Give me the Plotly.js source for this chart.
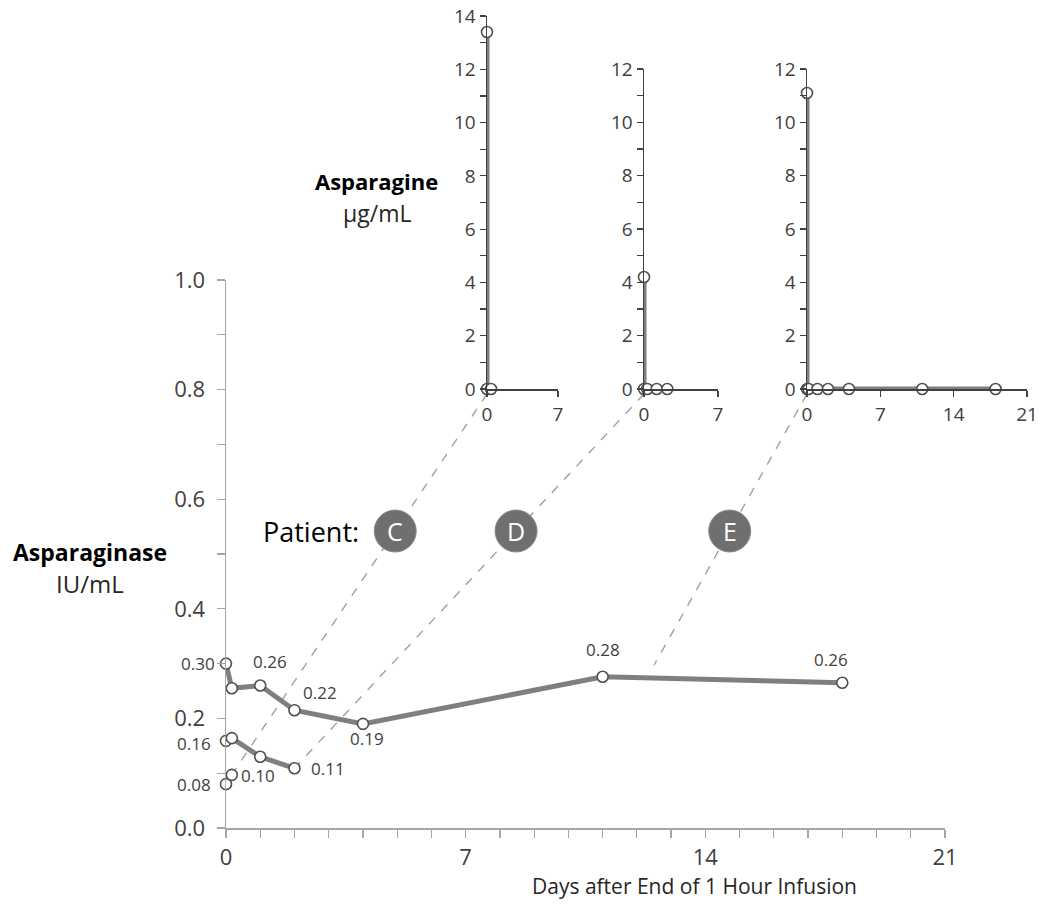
<!DOCTYPE html>
<html><head><meta charset="utf-8">
<script src="https://cdn.plot.ly/plotly-3.0.1.min.js"></script>
<style>html,body{margin:0;padding:0;background:#fff}#chart{width:1044px;height:904px}</style>
</head><body><div id="chart"></div>
<script>
// ---------- data ----------
// Asparaginase activity (IU/mL) vs days after end of infusion
const daysE = [0, 0.17, 1, 2, 4, 11, 18];
const asparaginaseE = [0.30, 0.255, 0.26, 0.215, 0.19, 0.276, 0.265];
const labelsE = ['0.30', '', '0.26', '0.22', '0.19', '0.28', '0.26'];

const daysD = [0, 0.17, 1, 2];
const asparaginaseD = [0.159, 0.164, 0.13, 0.109];
const labelsD = ['0.16', '', '', '0.11'];

const daysC = [0, 0.17];
const asparaginaseC = [0.08, 0.097];
const labelsC = ['0.08', '0.10'];

// Asparagine (µg/mL) insets
const asnDaysC = [0, 0, 0.4];
const asparagineC = [13.4, 0, 0];
const asnDaysD = [0, 0, 0.3, 1.2, 2.2];
const asparagineD = [4.2, 0, 0, 0, 0];
const asnDaysE = [0, 0, 0.15, 1, 2, 4, 11, 18];
const asparagineE = [11.1, 0, 0, 0, 0, 0, 0, 0];

const patients = ['C', 'D', 'E'];
const mainXTicks = [0, 7, 14, 21];
const insetXTicksShort = [0, 7];
const insetXTicksLong = [0, 7, 14, 21];

// ---------- layout geometry ----------
const W = 1044, H = 904;
const FONT = '"Open Sans", "Noto Sans", sans-serif';
const px = v => v / W, py = v => 1 - v / H;

const mainX = {domain: [px(226), px(945)], range: [0, 21]};
const mainY = {domain: [py(828), py(280)], range: [0, 1]};
const insC = {x: {domain: [px(487), px(558)], range: [0, 7]}, y: {domain: [py(389), py(16)], range: [0, 14]}};
const insD = {x: {domain: [px(644), px(718)], range: [0, 7]}, y: {domain: [py(389), py(69)], range: [0, 12]}};
const insE = {x: {domain: [px(807), px(1027)], range: [0, 21]}, y: {domain: [py(389), py(69)], range: [0, 12]}};

const map = (ax, v) => ax.domain[0] + (v - ax.range[0]) / (ax.range[1] - ax.range[0]) * (ax.domain[1] - ax.domain[0]);

const lineColor = '#7f7f7f';
const markerStyle = {size: 11, color: '#ffffff', line: {color: '#505050', width: 1.6}};

function series(x, y, xa, ya) {
  return {x, y, xaxis: xa, yaxis: ya, type: 'scatter', mode: 'lines+markers',
    line: {color: lineColor, width: 5}, marker: markerStyle, cliponaxis: false,
    hoverinfo: 'x+y', showlegend: false};
}

const data = [
  series(daysE, asparaginaseE, 'x', 'y'),
  series(daysD, asparaginaseD, 'x', 'y'),
  series(daysC, asparaginaseC, 'x', 'y'),
  series(asnDaysC, asparagineC, 'x2', 'y2'),
  series(asnDaysD, asparagineD, 'x3', 'y3'),
  series(asnDaysE, asparagineE, 'x4', 'y4'),
];

// ---------- axes ----------
const mainAxisColor = '#a6a6a6';
const tickFontMain = {family: FONT, size: 22, color: '#404040'};
const tickFontInset = {family: FONT, size: 19, color: '#404040'};

function mainAxis(geom, extra) {
  return Object.assign({
    domain: geom.domain, range: geom.range, showgrid: false, zeroline: false,
    showline: true, linecolor: mainAxisColor, linewidth: 1.5,
    ticks: 'outside', ticklen: 8, tickwidth: 1.2, tickcolor: mainAxisColor,
    tickfont: tickFontMain, fixedrange: true
  }, extra);
}
function insetAxis(geom, extra) {
  return Object.assign({
    domain: geom.domain, range: geom.range, showgrid: false, zeroline: false,
    showline: true, linecolor: '#404040', linewidth: 1.5,
    ticks: 'outside', ticklen: 6, tickwidth: 1.2, tickcolor: '#404040',
    tickfont: tickFontInset, fixedrange: true
  }, extra);
}

// ---------- annotations ----------
const annotations = [];
function addLabels(xs, ys, labels, offsets) {
  labels.forEach((t, i) => {
    if (!t) return;
    annotations.push({x: xs[i], y: ys[i], xref: 'x', yref: 'y', text: t, showarrow: false,
      xshift: offsets[i][0], yshift: offsets[i][1], font: {family: FONT, size: 17, color: '#404040'}});
  });
}
addLabels(daysE, asparaginaseE, labelsE, [[-28, 0], null, [10, 24], [26, 18], [4, -15], [0, 27], [-11, 23]]);
addLabels(daysD, asparaginaseD, labelsD, [[-32, -3], null, null, [34, 0]]);
addLabels(daysC, asparaginaseC, labelsC, [[-32, 0], [26, -1]]);

function textAt(x, y, text, size, bold, color) {
  annotations.push({x: px(x), y: py(y), xref: 'paper', yref: 'paper', text: bold ? '<b>' + text + '</b>' : text,
    showarrow: false, xanchor: 'center', yanchor: 'middle',
    font: {family: FONT, size, color: color || '#000000'}});
}
textAt(90, 552, 'Asparaginase', 23, true);
textAt(90, 583, 'IU/mL', 24, false, '#262626');
textAt(376, 181, 'Asparagine', 22, true);
textAt(377, 213, 'µg/mL', 23, false, '#262626');
textAt(311, 531, 'Patient:', 27, false, '#000000');
textAt(694, 886, 'Days after End of 1 Hour Infusion', 21, false, '#262626');

// ---------- connector lines and patient badges ----------
const shapes = [];
const badgeY = py(531);
const connectors = [
  {inset: insC, end: [daysC[1], asparaginaseC[1]]},
  {inset: insD, end: [daysD[3], asparaginaseD[3]]},
  {inset: insE, end: [12.5, 0.297]},
];
connectors.forEach((c, i) => {
  const x0 = map(c.inset.x, 0), y0 = map(c.inset.y, 0) - 5 / H;
  const x1 = map(mainX, c.end[0]), y1 = map(mainY, c.end[1]);
  shapes.push({type: 'line', xref: 'paper', yref: 'paper', x0, y0, x1, y1, layer: 'below',
    line: {color: '#a0a0a0', width: 1.4, dash: 'dash'}});
  const t = (badgeY - y0) / (y1 - y0);
  const bx = x0 + t * (x1 - x0);
  const r = 21;
  shapes.push({type: 'circle', xref: 'paper', yref: 'paper', x0: bx - r / W, x1: bx + r / W,
    y0: badgeY - r / H, y1: badgeY + r / H, fillcolor: '#6f6f6f', line: {color: '#8a8a8a', width: 1}, layer: 'above'});
  annotations.push({x: bx, y: badgeY, xref: 'paper', yref: 'paper', text: patients[i], showarrow: false,
    xanchor: 'center', yanchor: 'middle', font: {family: FONT, size: 25, color: '#ffffff'}});
});

const layout = {
  width: W, height: H, margin: {l: 0, r: 0, t: 0, b: 0},
  paper_bgcolor: '#ffffff', plot_bgcolor: 'rgba(0,0,0,0)', showlegend: false,
  xaxis: mainAxis(mainX, {anchor: 'y', tickvals: mainXTicks, ticktext: mainXTicks.map(String), ticklabelstandoff: 1,
    minor: {dtick: 1, tick0: 0, ticks: 'outside', ticklen: 8, tickcolor: mainAxisColor, showgrid: false}}),
  yaxis: mainAxis(mainY, {anchor: 'x', dtick: 0.2, tick0: 0, tickformat: '.1f', ticklabelstandoff: 7,
    minor: {dtick: 0.1, tick0: 0, ticks: 'outside', ticklen: 8, tickcolor: mainAxisColor, showgrid: false}}),
  xaxis2: insetAxis(insC.x, {anchor: 'y2', tickvals: insetXTicksShort, ticklabelstandoff: 2}),
  yaxis2: insetAxis(insC.y, {anchor: 'x2', dtick: 2, tick0: 0,
    minor: {dtick: 1, tick0: 0, ticks: 'outside', ticklen: 6, tickcolor: '#404040', showgrid: false}}),
  xaxis3: insetAxis(insD.x, {anchor: 'y3', tickvals: insetXTicksShort, ticklabelstandoff: 2}),
  yaxis3: insetAxis(insD.y, {anchor: 'x3', dtick: 2, tick0: 0,
    minor: {dtick: 1, tick0: 0, ticks: 'outside', ticklen: 6, tickcolor: '#404040', showgrid: false}}),
  xaxis4: insetAxis(insE.x, {anchor: 'y4', tickvals: insetXTicksLong, ticklabelstandoff: 2}),
  yaxis4: insetAxis(insE.y, {anchor: 'x4', dtick: 2, tick0: 0,
    minor: {dtick: 1, tick0: 0, ticks: 'outside', ticklen: 6, tickcolor: '#404040', showgrid: false}}),
  annotations, shapes
};

Plotly.newPlot('chart', data, layout, {staticPlot: true, displayModeBar: false});
</script>
</body></html>
